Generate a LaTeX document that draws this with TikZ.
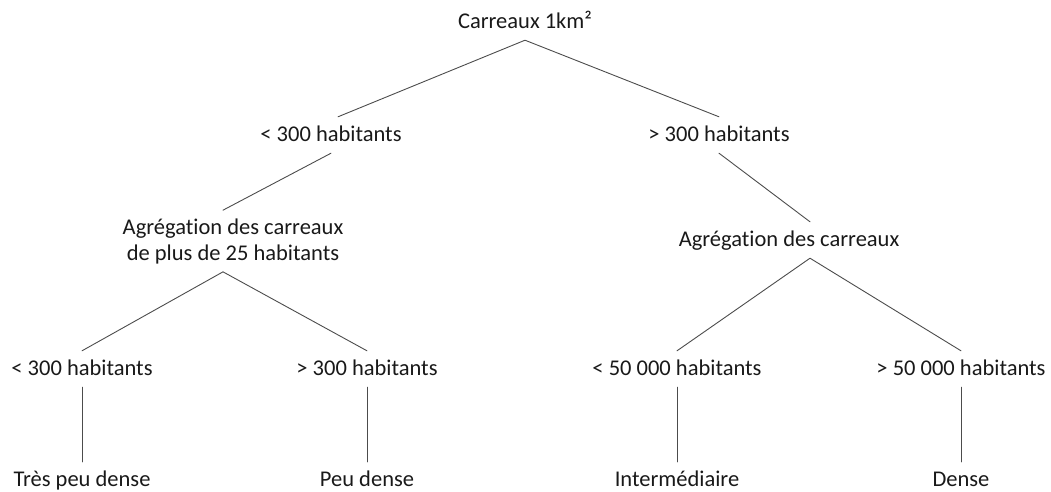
\documentclass[tikz,border=0pt]{standalone}
\usepackage{fontspec}
\setmainfont[Ligatures=NoCommon]{Carlito}
\tikzset{
    lab/.style = {font=\fontsize{22.5}{26}\selectfont, text=black!90, text height=16pt, text depth=4pt, inner xsep=2pt, inner ysep=8pt},
    labtwo/.style = {font=\fontsize{22.5}{26}\selectfont, text=black!90, align=center, inner xsep=2pt, inner ysep=8pt},
    branch/.style = {draw=black!70, line width=0.9pt}
}

\begin{document}
\begin{tikzpicture}[x=1pt,y=-1pt, line cap=round, line join=round]
	\useasboundingbox (0,0) rectangle (1051,491);
	\node[lab] (root) at (525,22) {Carreaux 1km²};
	\node[lab] (lt) at (331,135) {< 300 habitants};
	\node[lab] (rt) at (719,135) {> 300 habitants};
	\node[labtwo] (agl) at (233,241) {Agrégation des carreaux\\de plus de 25 habitants};
	\node[lab] (agr) at (789,240) {Agrégation des carreaux};
	\node[lab] (ll) at (82,369) {< 300 habitants};
	\node[lab] (lr) at (367,369) {> 300 habitants};
	\node[lab] (rl) at (677,369) {< 50 000 habitants};
	\node[lab] (rr) at (961,369) {> 50 000 habitants};
	\node[lab] (tpd) at (82,480) {Très peu dense};
	\node[lab] (pd) at (367,480) {Peu dense};
	\node[lab] (int) at (677,480) {Intermédiaire};
	\node[lab] (den) at (961,480) {Dense};
	\draw[branch] ([xshift=7pt]lt.north) -- (root.south) -- (rt.north);
	\draw[branch] (lt.south) -- ([xshift=-10pt]agl.north);
	\draw[branch] (ll.north) -- ([xshift=-10pt]agl.south) -- (lr.north);
	\draw[branch] (rt.south) -- ([xshift=21pt]agr.north);
	\draw[branch] (rl.north) -- ([xshift=21pt]agr.south) -- (rr.north);
	\draw[branch] (ll) -- (tpd);
	\draw[branch] (lr) -- (pd);
	\draw[branch] (rl) -- (int);
	\draw[branch] (rr) -- (den);
\end{tikzpicture}
\end{document}
